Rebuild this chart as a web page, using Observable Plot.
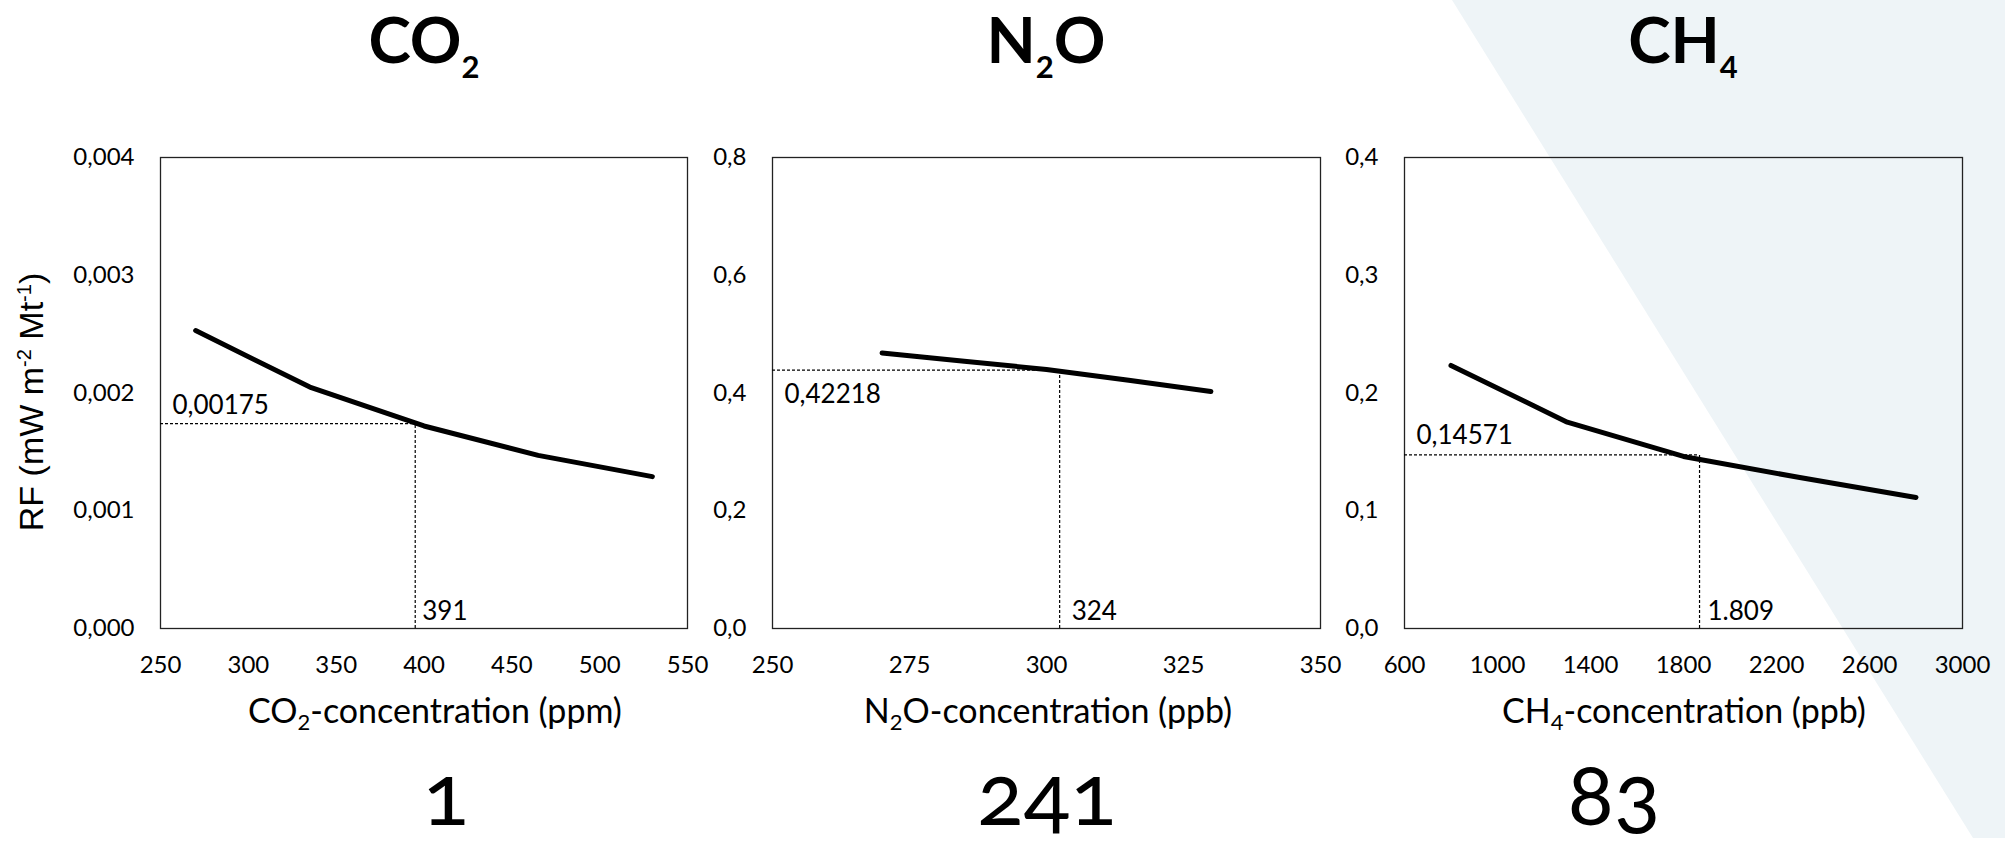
<!DOCTYPE html>
<html>
<head>
<meta charset="utf-8">
<script src="https://cdn.jsdelivr.net/npm/d3@7"></script>
<script src="https://cdn.jsdelivr.net/npm/@observablehq/plot@0.6"></script>
<style>
html, body { margin: 0; padding: 0; background: #fff; }
#page { position: relative; width: 2005px; height: 844px; overflow: hidden; background: #fff; }
#bg { position: absolute; left: 0; top: 0; width: 2005px; height: 844px; background: #EEF4F7;
      clip-path: polygon(1452px 0, 2005px 0, 2005px 838px, 1973px 838px); }
.panel { position: absolute; top: 100px; }
.title { position: absolute; top: 7px; font-family: Lato, sans-serif; font-weight: 700; font-size: 64px;
         line-height: 1; transform: translateX(-50%); white-space: nowrap; color: #000; }
.title sub { font-size: 31px; vertical-align: -15px; line-height: 0; }
.xt { position: absolute; top: 693px; font-family: Lato, sans-serif; font-size: 34px; line-height: 1;
      transform: translateX(-50%); white-space: nowrap; color: #000; }
.xt sub { font-size: 22px; vertical-align: -7px; line-height: 0; }
.num { position: absolute; top: 749px; font-family: Lato, sans-serif; font-size: 86px; line-height: 1;
       transform: translateX(-50%); white-space: nowrap; color: #000;
       font-variant-numeric: oldstyle-nums; font-feature-settings: "onum" 1; }
.ylab { position: absolute; left: 31px; top: 402px; font-family: "Liberation Sans", Arial, sans-serif; font-size: 34px;
        line-height: 1; white-space: nowrap; transform: translate(-50%, -50%) rotate(-90deg); color: #000; }
.ylab sup { font-size: 20px; vertical-align: 12px; line-height: 0; }
g[aria-label="annotation"] text { font-variant-numeric: oldstyle-nums; font-feature-settings: "onum" 1; }
</style>
</head>
<body>
<div id="page">
  <div id="bg"></div>
</div>
<script>
// ---- data ----
const gases = ["CO2", "N2O", "CH4"];
const co2Conc = [270, 335, 400, 465, 530];
const co2RF   = [0.00253, 0.00205, 0.00172, 0.00147, 0.00129];
const n2oConc = [270, 285, 300, 315, 330];
const n2oRF   = [0.468, 0.454, 0.440, 0.4215, 0.4025];
const ch4Conc = [800, 1300, 1800, 2300, 2800];
const ch4RF   = [0.2234, 0.1752, 0.1461, 0.1282, 0.1113];

// dashed guide lines (as drawn) and their labels
const refConc = [395, 302.4, 1869];
const refRF   = [0.00174, 0.439, 0.1475];
const refConcLabels = ["391", "324", "1.809"];
const refRFLabels   = ["0,00175", "0,42218", "0,14571"];

// GWP numbers below each panel
const gwpValues = ["1", "241", "83"];

// axis ticks
const co2XTicks = [250, 300, 350, 400, 450, 500, 550];
const n2oXTicks = [250, 275, 300, 325, 350];
const ch4XTicks = [600, 1000, 1400, 1800, 2200, 2600, 3000];
const co2YTicks = [0, 0.001, 0.002, 0.003, 0.004];
const n2oYTicks = [0, 0.2, 0.4, 0.6, 0.8];
const ch4YTicks = [0, 0.1, 0.2, 0.3, 0.4];

const comma = (digits) => (d) => d3.format(`.${digits}f`)(d).replace(".", ",");

function panel(cfg) {
  const data = cfg.conc.map((c, i) => ({c, r: cfg.rf[i]}));
  const x0 = cfg.xTicks[0], x1 = cfg.xTicks[cfg.xTicks.length - 1];
  const y0 = cfg.yTicks[0], y1 = cfg.yTicks[cfg.yTicks.length - 1];
  const dash = {stroke: "#000", strokeWidth: 1.2, strokeDasharray: "3,2"};
  const annot = {fill: "#000", fontFamily: "Lato", fontSize: 26, textAnchor: "start", ariaLabel: "annotation"};
  return Plot.plot({
    width: cfg.width, height: 600,
    marginTop: 57, marginBottom: 72, marginLeft: cfg.marginLeft, marginRight: cfg.marginRight,
    style: {background: "transparent", fontFamily: "Lato, sans-serif", fontSize: "24px", color: "#000", overflow: "visible"},
    x: {domain: [x0, x1], ticks: cfg.xTicks, tickFormat: (d) => String(d), tickSize: 0, tickPadding: 27, label: null},
    y: {domain: [y0, y1], ticks: cfg.yTicks, tickFormat: cfg.yFmt, tickSize: 0, tickPadding: 26, label: null},
    marks: [
      Plot.frame({stroke: "#222", strokeWidth: 1.3}),
      Plot.ruleY([cfg.refY], {x1: x0, x2: cfg.refX, ...dash}),
      Plot.ruleX([cfg.refX], {y1: y0, y2: cfg.refY, ...dash}),
      Plot.line(data, {x: "c", y: "r", stroke: "#000", strokeWidth: 5, strokeLinecap: "round", strokeLinejoin: "round"}),
      Plot.text([cfg.refYLabel], {x: () => x0, y: () => cfg.refY, text: (d) => d, dx: 12, dy: cfg.yLabDy,
        lineAnchor: cfg.yLabAnchor, ...annot}),
      Plot.text([cfg.refXLabel], {x: () => cfg.refX, y: () => y0, text: (d) => d, dx: cfg.xLabDx, dy: -9,
        lineAnchor: "bottom", ...annot})
    ]
  });
}

const configs = [
  {conc: co2Conc, rf: co2RF, xTicks: co2XTicks, yTicks: co2YTicks, yFmt: comma(3),
   left: 40, width: 680, marginLeft: 120, marginRight: 33, center: 424, xtCenter: 435, numCenter: 446,
   yLabDy: -10, yLabAnchor: "bottom", xLabDx: 7},
  {conc: n2oConc, rf: n2oRF, xTicks: n2oXTicks, yTicks: n2oYTicks, yFmt: comma(1),
   left: 700, width: 660, marginLeft: 72, marginRight: 40, center: 1046, xtCenter: 1048, numCenter: 1047,
   yLabDy: 14, yLabAnchor: "top", xLabDx: 12},
  {conc: ch4Conc, rf: ch4RF, xTicks: ch4XTicks, yTicks: ch4YTicks, yFmt: comma(1),
   left: 1330, width: 675, marginLeft: 74, marginRight: 43, center: 1683, xtCenter: 1684, numCenter: 1614,
   yLabDy: -11, yLabAnchor: "bottom", xLabDx: 8}
];

const titlesHTML = ["CO<sub>2</sub>", "N<sub>2</sub>O", "CH<sub>4</sub>"];
const axisTitlesHTML = ["CO<sub>2</sub>-concentration (ppm)", "N<sub>2</sub>O-concentration (ppb)", "CH<sub>4</sub>-concentration (ppb)"];

const page = document.getElementById("page");
configs.forEach((cfg, i) => {
  cfg.refX = refConc[i]; cfg.refY = refRF[i];
  cfg.refXLabel = refConcLabels[i]; cfg.refYLabel = refRFLabels[i];
  const wrap = document.createElement("div");
  wrap.className = "panel";
  wrap.style.left = cfg.left + "px";
  wrap.appendChild(panel(cfg));
  page.appendChild(wrap);

  const t = document.createElement("div");
  t.className = "title"; t.style.left = cfg.center + "px"; t.innerHTML = titlesHTML[i];
  page.appendChild(t);

  const xt = document.createElement("div");
  xt.className = "xt"; xt.style.left = cfg.xtCenter + "px"; xt.innerHTML = axisTitlesHTML[i];
  page.appendChild(xt);

  const n = document.createElement("div");
  n.className = "num"; n.style.left = cfg.numCenter + "px"; n.textContent = gwpValues[i];
  page.appendChild(n);
});

const yl = document.createElement("div");
yl.className = "ylab";
yl.innerHTML = "RF (mW m<sup>-2</sup> Mt<sup>-1</sup>)";
page.appendChild(yl);
</script>
</body>
</html>
